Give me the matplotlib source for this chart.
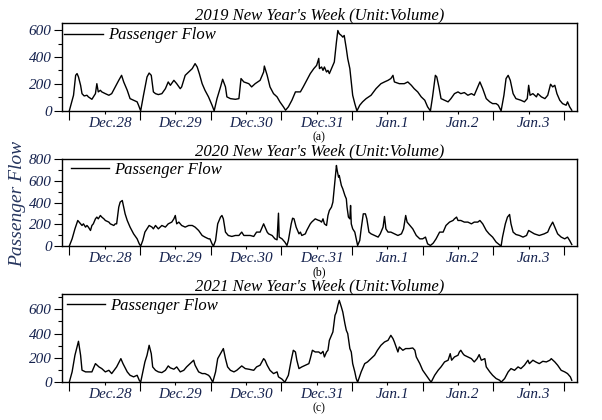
import matplotlib
matplotlib.use("Agg")
import matplotlib.pyplot as plt
import matplotlib.transforms as mtransforms
import numpy as np

plt.rcParams["font.family"] = ["Liberation Serif", "DejaVu Serif"]

# time in days since the first tick, passenger flow (volume)
days_2019 = [0.00, 0.06, 0.09, 0.11, 0.13, 0.16, 0.18, 0.21, 0.25, 0.27, 0.32, 0.37, 0.39, 0.41, 0.44, 0.46,
             0.51, 0.56, 0.60, 0.65, 0.70, 0.74, 0.77, 0.82, 0.86, 0.91, 0.96, 0.98, 1.01, 1.05, 1.10, 1.13,
             1.16, 1.19, 1.22, 1.26, 1.31, 1.36, 1.40, 1.43, 1.48, 1.52, 1.57, 1.59, 1.64, 1.69, 1.74, 1.78,
             1.81, 1.84, 1.88, 1.92, 1.97, 2.02, 2.05, 2.09, 2.14, 2.17, 2.21, 2.23, 2.28, 2.35, 2.40, 2.43,
             2.47, 2.54, 2.58, 2.63, 2.70, 2.75, 2.76, 2.80, 2.84, 2.89, 2.94, 2.98, 3.03, 3.06, 3.10, 3.15,
             3.20, 3.27, 3.31, 3.36, 3.41, 3.46, 3.50, 3.53, 3.54, 3.57, 3.59, 3.61, 3.64, 3.66, 3.68, 3.71,
             3.73, 3.75, 3.78, 3.80, 3.82, 3.85, 3.87, 3.89, 3.92, 3.94, 3.97, 3.99, 4.01, 4.04, 4.06, 4.07,
             4.11, 4.15, 4.20, 4.27, 4.34, 4.41, 4.46, 4.51, 4.55, 4.58, 4.60, 4.67, 4.74, 4.79, 4.84, 4.88,
             4.93, 4.98, 5.03, 5.07, 5.11, 5.14, 5.18, 5.20, 5.23, 5.26, 5.31, 5.36, 5.40, 5.45, 5.50, 5.54,
             5.59, 5.64, 5.69, 5.73, 5.78, 5.81, 5.85, 5.90, 5.95, 5.99, 6.04, 6.07, 6.11, 6.15, 6.18, 6.21,
             6.24, 6.28, 6.32, 6.39, 6.44, 6.48, 6.50, 6.52, 6.56, 6.61, 6.63, 6.68, 6.73, 6.77, 6.81, 6.84,
             6.87, 6.90, 6.94, 6.98, 7.03, 7.05, 7.08, 7.11]
flow_2019 = [0, 116, 264, 277, 252, 190, 128, 111, 116, 104, 86, 128, 202, 141, 153, 141,
             128, 116, 128, 178, 227, 264, 215, 153, 91, 79, 67, 42, 0, 116, 252, 281,
             264, 141, 128, 121, 128, 165, 215, 190, 227, 202, 165, 178, 264, 289, 314, 351,
             326, 277, 202, 153, 104, 42, 0, 91, 178, 235, 178, 104, 91, 86, 91, 240,
             215, 202, 178, 202, 227, 289, 333, 264, 178, 128, 104, 67, 30, 5, 30, 79,
             141, 141, 178, 227, 277, 314, 338, 390, 314, 326, 301, 326, 289, 301, 277, 314,
             338, 363, 511, 597, 573, 560, 548, 560, 462, 388, 314, 215, 116, 54, 17, 0,
             42, 67, 91, 116, 165, 202, 215, 227, 240, 264, 215, 202, 202, 215, 190, 165,
             141, 104, 79, 30, 0, 104, 264, 252, 178, 91, 79, 67, 91, 128, 141, 128,
             136, 116, 128, 116, 178, 215, 165, 91, 67, 54, 54, 42, 0, 116, 240, 264,
             227, 128, 91, 79, 67, 91, 190, 116, 128, 104, 128, 104, 91, 116, 198, 178,
             190, 128, 79, 54, 42, 67, 30, 5]

days_2020 = [0.00, 0.04, 0.08, 0.12, 0.16, 0.18, 0.20, 0.23, 0.25, 0.27, 0.30, 0.32, 0.34, 0.37, 0.39, 0.41,
             0.44, 0.46, 0.49, 0.51, 0.56, 0.58, 0.63, 0.65, 0.67, 0.70, 0.72, 0.75, 0.77, 0.79, 0.82, 0.84,
             0.86, 0.91, 0.96, 0.99, 1.01, 1.04, 1.07, 1.13, 1.17, 1.19, 1.22, 1.26, 1.31, 1.36, 1.40, 1.45,
             1.48, 1.50, 1.52, 1.55, 1.59, 1.64, 1.69, 1.74, 1.78, 1.83, 1.88, 1.92, 1.97, 1.99, 2.02, 2.04,
             2.07, 2.10, 2.14, 2.16, 2.18, 2.21, 2.25, 2.30, 2.35, 2.40, 2.44, 2.47, 2.51, 2.56, 2.61, 2.65,
             2.70, 2.75, 2.77, 2.80, 2.82, 2.87, 2.91, 2.94, 2.96, 2.97, 3.01, 3.05, 3.08, 3.10, 3.14, 3.16,
             3.18, 3.21, 3.25, 3.27, 3.29, 3.34, 3.36, 3.41, 3.43, 3.48, 3.53, 3.54, 3.57, 3.59, 3.61, 3.64,
             3.66, 3.68, 3.71, 3.73, 3.75, 3.78, 3.79, 3.81, 3.82, 3.85, 3.87, 3.90, 3.92, 3.93, 3.95, 3.97,
             3.98, 3.99, 4.01, 4.04, 4.06, 4.08, 4.11, 4.13, 4.16, 4.19, 4.21, 4.24, 4.27, 4.32, 4.37, 4.40,
             4.44, 4.46, 4.48, 4.51, 4.55, 4.60, 4.65, 4.70, 4.73, 4.76, 4.78, 4.82, 4.86, 4.91, 4.96, 5.00,
             5.04, 5.07, 5.11, 5.15, 5.19, 5.24, 5.29, 5.33, 5.38, 5.43, 5.45, 5.48, 5.50, 5.54, 5.59, 5.64,
             5.69, 5.73, 5.78, 5.81, 5.85, 5.90, 5.94, 5.99, 6.04, 6.11, 6.13, 6.17, 6.20, 6.23, 6.25, 6.28,
             6.32, 6.37, 6.42, 6.47, 6.50, 6.54, 6.58, 6.65, 6.72, 6.77, 6.80, 6.84, 6.87, 6.91, 6.96, 7.01,
             7.05, 7.08, 7.11]
flow_2020 = [0, 67, 159, 236, 205, 190, 205, 175, 190, 175, 144, 190, 205, 251, 267, 251,
             282, 267, 251, 236, 221, 205, 190, 205, 205, 359, 405, 420, 359, 297, 236, 205,
             175, 113, 67, 21, 0, 52, 129, 190, 175, 159, 190, 159, 190, 175, 205, 221,
             251, 282, 205, 221, 190, 175, 190, 190, 175, 144, 98, 83, 67, 67, 21, 0,
             52, 205, 267, 282, 251, 129, 98, 89, 98, 98, 129, 98, 98, 98, 89, 129,
             129, 205, 175, 129, 113, 98, 67, 58, 303, 83, 67, 37, 6, 52, 205, 257,
             251, 175, 113, 129, 98, 113, 144, 205, 221, 251, 236, 236, 221, 251, 205, 190,
             282, 328, 359, 405, 543, 742, 699, 634, 650, 558, 527, 466, 435, 359, 267, 251,
             374, 205, 159, 129, 67, 6, 52, 159, 297, 297, 251, 129, 113, 98, 83, 113,
             175, 273, 159, 129, 129, 113, 98, 113, 159, 282, 221, 190, 159, 98, 67, 67,
             83, 21, 6, 28, 67, 129, 129, 190, 221, 236, 251, 267, 236, 236, 221, 221,
             205, 221, 221, 236, 205, 144, 113, 83, 37, 0, 83, 205, 267, 291, 205, 129,
             107, 98, 83, 98, 144, 129, 113, 98, 113, 129, 175, 221, 175, 113, 83, 67,
             83, 52, 15]

days_2021 = [0.00, 0.04, 0.08, 0.11, 0.13, 0.16, 0.18, 0.23, 0.27, 0.32, 0.37, 0.42, 0.46, 0.51, 0.56, 0.60,
             0.67, 0.73, 0.76, 0.82, 0.86, 0.91, 0.96, 0.99, 1.01, 1.03, 1.07, 1.10, 1.13, 1.16, 1.18, 1.22,
             1.26, 1.31, 1.36, 1.40, 1.43, 1.48, 1.52, 1.57, 1.62, 1.66, 1.71, 1.76, 1.78, 1.83, 1.88, 1.92,
             1.97, 1.99, 2.03, 2.07, 2.10, 2.14, 2.18, 2.21, 2.24, 2.28, 2.33, 2.37, 2.44, 2.49, 2.54, 2.61,
             2.65, 2.70, 2.75, 2.77, 2.80, 2.84, 2.89, 2.94, 2.96, 3.01, 3.05, 3.10, 3.14, 3.17, 3.20, 3.22,
             3.25, 3.29, 3.34, 3.39, 3.41, 3.44, 3.48, 3.53, 3.56, 3.59, 3.61, 3.64, 3.66, 3.68, 3.71, 3.73,
             3.76, 3.78, 3.80, 3.82, 3.85, 3.87, 3.90, 3.92, 3.94, 3.97, 3.99, 4.01, 4.04, 4.06, 4.08, 4.13,
             4.18, 4.22, 4.27, 4.32, 4.36, 4.41, 4.46, 4.51, 4.55, 4.58, 4.60, 4.65, 4.67, 4.72, 4.76, 4.81,
             4.86, 4.89, 4.91, 4.96, 5.00, 5.05, 5.10, 5.12, 5.17, 5.22, 5.26, 5.31, 5.36, 5.39, 5.41, 5.45,
             5.50, 5.52, 5.54, 5.57, 5.59, 5.64, 5.69, 5.73, 5.77, 5.80, 5.83, 5.88, 5.90, 5.95, 5.99, 6.04,
             6.09, 6.11, 6.16, 6.21, 6.25, 6.30, 6.35, 6.39, 6.44, 6.49, 6.51, 6.56, 6.60, 6.65, 6.70, 6.75,
             6.80, 6.82, 6.87, 6.91, 6.96, 7.01, 7.05, 7.09, 7.11]
flow_2021 = [0, 85, 222, 290, 337, 222, 99, 85, 85, 85, 153, 126, 112, 85, 98, 71,
             126, 194, 153, 85, 57, 44, 57, 16, 0, 57, 167, 222, 304, 235, 126, 98,
             85, 79, 98, 134, 118, 107, 126, 85, 98, 126, 153, 181, 140, 85, 71, 71,
             57, 44, 0, 85, 194, 235, 277, 194, 126, 98, 85, 98, 134, 112, 107, 98,
             126, 140, 194, 181, 140, 98, 71, 85, 44, 25, 0, 57, 181, 263, 249, 181,
             112, 126, 140, 153, 194, 263, 249, 249, 235, 254, 208, 249, 263, 345, 386, 414,
             551, 578, 633, 674, 619, 578, 482, 427, 400, 277, 249, 153, 85, 30, 0, 85,
             153, 167, 194, 222, 263, 304, 331, 345, 386, 359, 331, 249, 290, 263, 277, 277,
             282, 263, 208, 153, 99, 57, 16, 0, 57, 99, 126, 167, 181, 235, 181, 208,
             222, 249, 263, 235, 222, 208, 194, 167, 194, 227, 181, 194, 126, 85, 57, 30,
             16, 0, 30, 85, 112, 98, 126, 112, 140, 181, 153, 181, 167, 153, 172, 167,
             181, 194, 167, 140, 98, 85, 71, 44, 16]

day_labels = ["Dec.28", "Dec.29", "Dec.30", "Dec.31", "Jan.1", "Jan.2", "Jan.3"]
titles = ["2019 New Year's Week (Unit:Volume)",
          "2020 New Year's Week (Unit:Volume)",
          "2021 New Year's Week (Unit:Volume)"]
panel_tags = ["(a)", "(b)", "(c)"]
y_tops = [652, 800, 723]
y_majors = [[0, 200, 400, 600], [0, 200, 400, 600, 800], [0, 200, 400, 600]]

TICK_COLOR = "#15224e"

fig = plt.figure(figsize=(6.02, 4.2), dpi=100)
# axes boxes in figure fractions
boxes = [(0.103, 0.736, 0.855, 0.209),
         (0.103, 0.414, 0.855, 0.207),
         (0.103, 0.090, 0.855, 0.209)]
legend_y = [0.86, 0.88, 0.87]
legend_x = [-0.005, 0.008, 0.0]
series = [(days_2019, flow_2019), (days_2020, flow_2020), (days_2021, flow_2021)]

for i, (box, (d, f)) in enumerate(zip(boxes, series)):
    ax = fig.add_axes(box)
    ax.plot(d, f, color="black", lw=1.0, label="Passenger Flow")
    ax.set_xlim(-0.103, 7.18)
    ax.set_ylim(0, y_tops[i])

    ax.set_xticks(np.arange(0, 8))
    ax.set_xticklabels([])
    ax.set_xticks(np.arange(0.5, 7), minor=True)
    ax.set_xticklabels(day_labels, minor=True)
    ax.tick_params(axis="x", which="major", length=6.5, width=0.8, direction="out")
    ax.tick_params(axis="x", which="minor", length=2.5, width=0.8, direction="out", pad=2,
                   labelsize=11, labelcolor=TICK_COLOR)
    shift = mtransforms.ScaledTranslation(5 / 100, 0, fig.dpi_scale_trans)
    for lab in ax.get_xticklabels(minor=True):
        lab.set_fontstyle("italic")
        lab.set_transform(lab.get_transform() + shift)

    ax.set_yticks(y_majors[i])
    ax.set_yticks(np.arange(100, y_tops[i], 200), minor=True)
    ax.tick_params(axis="y", which="major", length=5.5, width=0.8, pad=2, labelsize=11,
                   labelcolor=TICK_COLOR)
    ax.tick_params(axis="y", which="minor", length=3, width=0.8)
    for lab in ax.get_yticklabels():
        lab.set_fontstyle("italic")

    for s in ax.spines.values():
        s.set_linewidth(1.0)

    ax.set_title(titles[i], fontsize=12, fontstyle="italic", pad=2)
    ax.legend(loc="center left", bbox_to_anchor=(legend_x[i], legend_y[i]), frameon=False,
              handlelength=2.3, handletextpad=0.3, borderpad=0, borderaxespad=0.3,
              prop={"size": 12, "style": "italic"})
    ax.text(0.5, -0.30, panel_tags[i], transform=ax.transAxes, ha="center", va="center",
            fontsize=8.5)

fig.text(0.03, 0.515, "Passenger Flow", rotation=90, ha="center", va="center",
         fontsize=14, fontstyle="italic", color="#26355e")

fig.savefig("out.png", dpi=100)
